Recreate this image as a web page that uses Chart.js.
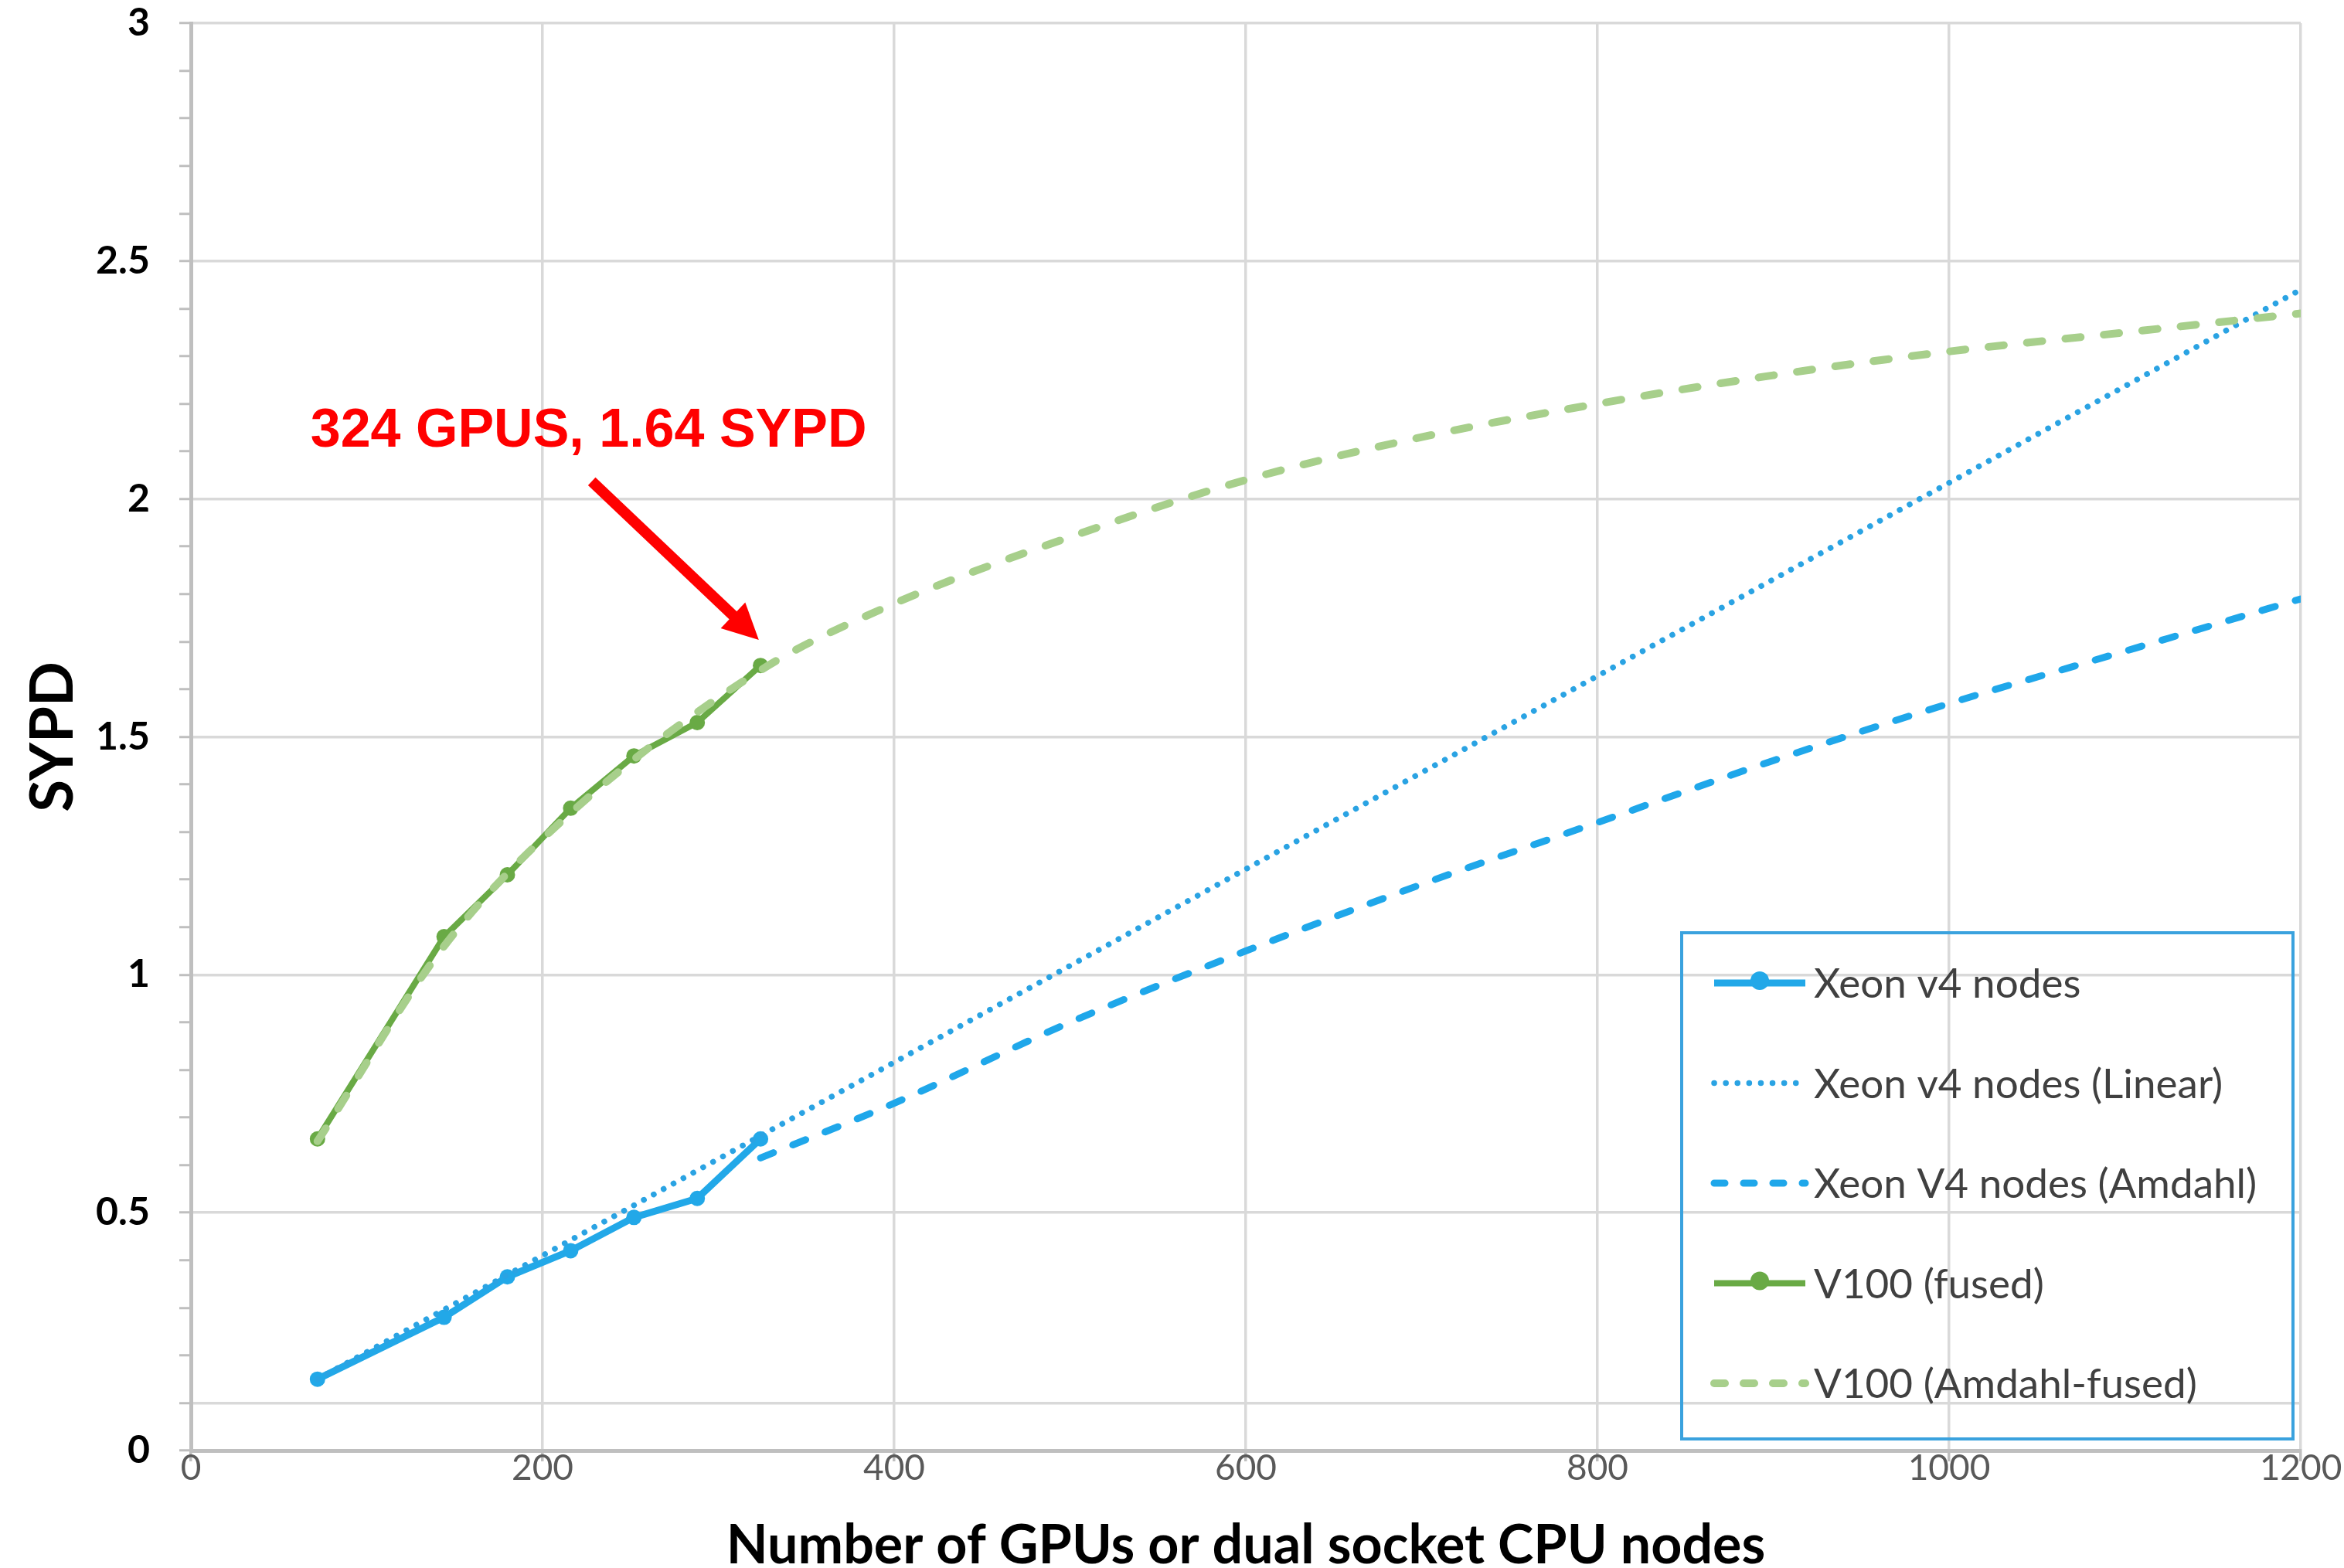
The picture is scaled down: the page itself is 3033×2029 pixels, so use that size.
<!DOCTYPE html>
<html>
<head>
<meta charset="utf-8">
<script src="https://cdn.jsdelivr.net/npm/chart.js@4.4.1/dist/chart.umd.min.js"></script>
<style>
  html, body { margin: 0; padding: 0; background: #ffffff; }
  #wrap { width: 3033px; height: 2029px; position: relative; }
</style>
</head>
<body>
<div id="wrap"><canvas id="c" width="3033" height="2029"></canvas></div>
<script>
// ---------- data ----------
const xeonNodes   = [72, 144, 180, 216, 252, 288, 324];
const xeonSYPD    = [0.15, 0.28, 0.365, 0.42, 0.49, 0.53, 0.655];

const xeonLinearX = [72, 1200];
const xeonLinearY = [0.15, 2.44];

const xeonAmdahlX = [324, 400, 500, 600, 700, 800, 900, 1000, 1100, 1200];
const xeonAmdahlY = [0.615, 0.73, 0.9, 1.05, 1.19, 1.32, 1.45, 1.57, 1.68, 1.79];

const v100GPUs    = [72, 144, 180, 216, 252, 288, 324];
const v100SYPD    = [0.655, 1.08, 1.21, 1.35, 1.46, 1.53, 1.65];

const v100AmdahlX = [72, 144, 216, 324, 400, 500, 600, 700, 800, 900, 1000, 1100, 1200];
const v100AmdahlY = [0.65, 1.06, 1.34, 1.64, 1.78, 1.92, 2.04, 2.13, 2.2, 2.26, 2.31, 2.35, 2.39];

const seriesLabels = [
  'Xeon v4 nodes',
  'Xeon v4 nodes (Linear)',
  'Xeon V4 nodes (Amdahl)',
  'V100 (fused)',
  'V100 (Amdahl-fused)'
];

const xAxisTitle = 'Number of GPUs or dual socket CPU nodes';
const yAxisTitle = 'SYPD';
const annotationText = '324 GPUS, 1.64 SYPD';
// annotation anchors in data units
const annotationTextAt = [68, 2.11];
const arrowFrom = [228, 2.037];
const arrowTo   = [323, 1.704];

// ---------- styles ----------
const BLUE = '#22A8E8';
const GREEN = '#69AA45';
const LIGHT_GREEN = '#A7CF8B';
const GRID = '#D9D9D9';
const AXIS = '#BFBFBF';

const pts = (xs, ys) => xs.map((x, i) => ({ x: x, y: ys[i] }));

const legendPlugin = {
  id: 'boxLegend',
  afterDatasetsDraw(chart) {
    const ctx = chart.ctx;
    const a = chart.chartArea;
    const left = a.right - 801, top = a.bottom - 670;
    const w = 791, h = 655;
    ctx.save();
    ctx.strokeStyle = '#3AA2DE';
    ctx.lineWidth = 4;
    ctx.strokeRect(left, top, w, h);
    const rowY0 = top + 65, rowStep = 129.5;
    chart.data.datasets.forEach((ds, i) => {
      const y = rowY0 + i * rowStep;
      const x1 = left + 42, x2 = left + 160;
      ctx.save();
      ctx.strokeStyle = ds.borderColor;
      ctx.lineWidth = ds.borderWidth;
      ctx.lineCap = ds.borderCapStyle || 'butt';
      ctx.setLineDash(ds.legendDash || []);
      ctx.beginPath();
      ctx.moveTo(x1, y);
      ctx.lineTo(x2, y);
      ctx.stroke();
      ctx.setLineDash([]);
      if (ds.pointRadius > 0) {
        ctx.fillStyle = ds.pointBackgroundColor;
        ctx.beginPath();
        ctx.arc((x1 + x2) / 2, y - 3, 12, 0, Math.PI * 2);
        ctx.fill();
      }
      ctx.restore();
      ctx.fillStyle = '#404040';
      ctx.font = '53px Lato';
      ctx.textAlign = 'left';
      ctx.textBaseline = 'middle';
      ctx.fillText(ds.label, left + 171, y + 2);
    });
    ctx.restore();
  }
};

const annotationPlugin = {
  id: 'redNote',
  afterDraw(chart) {
    const ctx = chart.ctx;
    const sx = chart.scales.x, sy = chart.scales.y;
    ctx.save();
    ctx.fillStyle = '#FF0000';
    ctx.font = 'bold 70px "Liberation Sans", Arial, sans-serif';
    ctx.textAlign = 'left';
    ctx.textBaseline = 'alphabetic';
    ctx.fillText(annotationText, sx.getPixelForValue(annotationTextAt[0]), sy.getPixelForValue(annotationTextAt[1]));
    // arrow
    const x0 = sx.getPixelForValue(arrowFrom[0]), y0 = sy.getPixelForValue(arrowFrom[1]);
    const x1 = sx.getPixelForValue(arrowTo[0]), y1 = sy.getPixelForValue(arrowTo[1]);
    const ang = Math.atan2(y1 - y0, x1 - x0);
    const headLen = 46, headHalf = 23;
    const bx = x1 - headLen * Math.cos(ang), by = y1 - headLen * Math.sin(ang);
    ctx.strokeStyle = '#FF0000';
    ctx.lineWidth = 14;
    ctx.lineCap = 'butt';
    ctx.beginPath();
    ctx.moveTo(x0, y0);
    ctx.lineTo(bx + 2 * Math.cos(ang), by + 2 * Math.sin(ang));
    ctx.stroke();
    ctx.beginPath();
    ctx.moveTo(x1, y1);
    ctx.lineTo(bx - headHalf * Math.sin(ang), by + headHalf * Math.cos(ang));
    ctx.lineTo(bx + headHalf * Math.sin(ang), by - headHalf * Math.cos(ang));
    ctx.closePath();
    ctx.fill();
    ctx.restore();
  }
};

const isMajor = (v) => {
  const t = Math.round(v * 10);
  return t % 5 === 0 || t === 1;
};

new Chart(document.getElementById('c'), {
  type: 'line',
  data: {
    datasets: [
      {
        label: seriesLabels[0],
        data: pts(xeonNodes, xeonSYPD),
        borderColor: BLUE, backgroundColor: BLUE,
        borderWidth: 9, pointRadius: 10, pointBackgroundColor: BLUE,
        pointBorderWidth: 0, tension: 0, order: 3
      },
      {
        label: seriesLabels[1],
        data: pts(xeonLinearX, xeonLinearY),
        borderColor: '#2AA3E3', backgroundColor: '#2AA3E3',
        borderWidth: 7.5, borderCapStyle: 'round', borderDash: [0.1, 14.5],
        legendDash: [0.1, 15],
        pointRadius: 0, tension: 0, order: 2
      },
      {
        label: seriesLabels[2],
        data: pts(xeonAmdahlX, xeonAmdahlY),
        borderColor: '#1FA7EA', backgroundColor: '#1FA7EA',
        borderWidth: 9, borderCapStyle: 'round', borderDash: [18, 27],
        legendDash: [14, 24],
        pointRadius: 0, cubicInterpolationMode: 'monotone', order: 2
      },
      {
        label: seriesLabels[3],
        data: pts(v100GPUs, v100SYPD),
        borderColor: GREEN, backgroundColor: GREEN,
        borderWidth: 8, pointRadius: 10, pointBackgroundColor: GREEN,
        pointBorderWidth: 0, tension: 0, order: 3
      },
      {
        label: seriesLabels[4],
        data: pts(v100AmdahlX, v100AmdahlY),
        borderColor: LIGHT_GREEN, backgroundColor: LIGHT_GREEN,
        borderWidth: 10, borderCapStyle: 'round', borderDash: [20, 30],
        legendDash: [14, 24],
        pointRadius: 0, cubicInterpolationMode: 'monotone', order: 1
      }
    ]
  },
  options: {
    responsive: false,
    animation: false,
    devicePixelRatio: 1,
    layout: { padding: { left: 0, right: 56, top: 30, bottom: 0 } },
    plugins: {
      legend: { display: false },
      tooltip: { enabled: false }
    },
    scales: {
      x: {
        type: 'linear',
        min: 0, max: 1200,
        ticks: {
          stepSize: 200,
          color: '#595959',
          font: { family: 'Lato', size: 46 },
          padding: -18,
          maxRotation: 0,
          callback: (v) => String(v)
        },
        grid: { color: GRID, lineWidth: 3.5, tickLength: 14, tickColor: AXIS, tickWidth: 3.5 },
        border: { color: AXIS, width: 5 },
        title: {
          display: true, text: xAxisTitle, color: '#000000',
          font: { family: 'Lato', weight: 'bold', size: 70, lineHeight: 0.8 },
          padding: { top: 0, bottom: 1 }
        },
        afterFit(scale) { scale.height = 152; scale.paddingLeft = 0; scale.paddingRight = 0; }
      },
      y: {
        type: 'linear',
        min: 0, max: 3,
        ticks: {
          stepSize: 0.1,
          autoSkip: false,
          color: '#000000',
          font: { family: 'Lato', weight: 'bold', size: 50 },
          padding: 38,
          callback: (v) => {
            const t = Math.round(v * 10);
            return t % 5 === 0 ? String(t / 10) : '';
          }
        },
        grid: {
          lineWidth: 3.5,
          tickLength: 15,
          tickWidth: 3,
          tickColor: AXIS,
          color: (c) => (c.tick && isMajor(c.tick.value)) ? GRID : 'rgba(0,0,0,0)'
        },
        border: { color: AXIS, width: 5 },
        title: {
          display: true, text: yAxisTitle, color: '#000000',
          font: { family: 'Lato', weight: 'bold', size: 76 },
          padding: { top: 24, bottom: 0 }
        },
        afterFit(scale) { scale.width = 247; scale.paddingTop = 0; scale.paddingBottom = 0; }
      }
    }
  },
  plugins: [legendPlugin, annotationPlugin]
});
</script>
</body>
</html>
